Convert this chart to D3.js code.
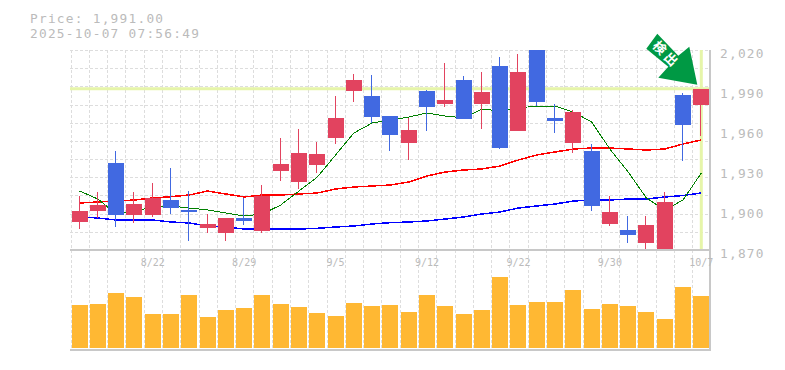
<!DOCTYPE html>
<html>

<head>
    <meta charset="utf-8">
    <script src="https://d3js.org/d3.v7.min.js"></script>

    <style type="text/css">
        html, body {
            margin: 0;
            padding: 0;
            background: white;
        }

        svg {
            display: block;
        }

        text {
            font-family: "DejaVu Sans Mono", monospace;
            fill: #bbbbbb;
        }

        .big {
            font-size: 12.8px;
            letter-spacing: 1.25px;
        }

        .grid line {
            stroke: #dddddd;
            stroke-width: 1px;
            stroke-dasharray: 3 2;
            shape-rendering: crispEdges;
        }

        .border {
            stroke: #c8c8c8;
            stroke-width: 2px;
            shape-rendering: crispEdges;
        }

        .axis path, .axis line {
            display: none;
        }

        .ma {
            fill: none;
            shape-rendering: crispEdges;
        }
    </style>
</head>

<body>
    <script>
        let dates = d3.range(35);
        let date_labels = { 4: "8/22", 9: "8/29", 14: "9/5", 19: "9/12", 24: "9/22", 29: "9/30", 34: "10/7" };
        let price_ticks = [2020, 1990, 1960, 1930, 1900, 1870];

        let open = [1891, 1899.25, 1935.25, 1896.25, 1896.25, 1907.5, 1900, 1886.5, 1882.75, 1894, 1884.25, 1929.25, 1921, 1933.75, 1954, 1989.25, 1985.5, 1970.5, 1950.25, 1989.25, 1979.5, 1997.5, 1979.5, 2008, 1959.25, 2020, 1969, 1950.25, 1944.25, 1889.5, 1885, 1875.25, 1870.75, 1986.25, 1978.75];
        let high = [1910.5, 1913.5, 1944.25, 1913.5, 1920.25, 1931.5, 1914.25, 1897, 1894, 1909, 1918.75, 1954, 1960.75, 1951, 1985.5, 2002, 2001.25, 1970.5, 1969, 1990, 2010.25, 2000.5, 2003.5, 2014.75, 2017, 2020, 1979.5, 1975, 1949.5, 1910.5, 1895.5, 1895.5, 1913.5, 1987.75, 1991];
        let low = [1885.75, 1894, 1887.25, 1890.25, 1894.75, 1897, 1876.75, 1882.75, 1876.75, 1888.75, 1882.75, 1921.75, 1915.75, 1927.75, 1949.5, 1981, 1965.25, 1944.25, 1937.5, 1959.25, 1977.25, 1968.25, 1960.75, 1945.75, 1959.25, 1978, 1957.75, 1942.75, 1899.25, 1888, 1875.25, 1870, 1870.75, 1936.75, 1955.5];
        let close = [1899.25, 1903.75, 1896.25, 1904.5, 1909, 1901.5, 1898.5, 1889.5, 1894, 1891.75, 1910.5, 1934.5, 1942.75, 1942, 1969, 1997.5, 1969.75, 1956.25, 1960, 1977.25, 1982.5, 1968.25, 1988.5, 1946.5, 2003.5, 1981, 1966.75, 1973.5, 1903, 1898.5, 1881.25, 1888.75, 1906, 1963.75, 1991];

        let ma_short = [1914.25, 1908.25, 1897, 1899.25, 1902, 1903, 1901.5, 1900, 1897.75, 1895.5, 1897, 1903.75, 1914.25, 1924.75, 1941.25, 1957.75, 1965.25, 1967.5, 1969.75, 1972.75, 1970.5, 1969, 1975.75, 1974.25, 1976.5, 1978, 1978, 1973.5, 1966, 1945.75, 1928.5, 1909, 1900, 1907.5, 1927.75];
        let ma_mid = [1905.25, 1906, 1906.75, 1907.5, 1909, 1910, 1911.25, 1914.25, 1912, 1909.75, 1911.25, 1911.25, 1912, 1912.75, 1915.75, 1917.25, 1918, 1918.75, 1921, 1925.5, 1928.5, 1930, 1930.75, 1933, 1937.5, 1941.25, 1943.5, 1945.75, 1946.5, 1946.5, 1945.75, 1945, 1945.75, 1949.5, 1952.5];
        let ma_long = [1894.75, 1894, 1892.5, 1892.5, 1892.5, 1891, 1890.25, 1888, 1887.25, 1885.75, 1885.75, 1885.75, 1885.75, 1886.25, 1887.25, 1888, 1889.5, 1890.5, 1891, 1891.75, 1893.25, 1894.75, 1897, 1898.5, 1901.5, 1903, 1904.5, 1906.75, 1907.5, 1907.5, 1908.25, 1908.25, 1909.75, 1910.88, 1912.75];

        let volume = [43, 44, 55, 51, 34, 34, 53, 31, 38, 40, 53, 44, 41, 35, 32, 45, 42, 43, 36, 53, 42, 34, 38, 71, 43, 46, 46, 58, 39, 44, 42, 36, 29, 61, 52];

        let price_now = 1991;

        let width = 785;
        let height = 370;
        let left = 70;
        let right = 710;
        let top_y = 50;
        let mid_y = 250;
        let bottom_y = 350;

        let svg = d3.select("body").append("svg")
            .attr("width", width)
            .attr("height", height);

        let x_scale = d3.scaleBand()
            .domain(dates)
            .range([71.6, 709.3])
            .paddingInner(0.125)
            .paddingOuter(0);

        let y_scale = d3.scaleLinear()
            .domain([1870, 2020])
            .range([mid_y, top_y]);

        let v_scale = d3.scaleLinear()
            .domain([0, 100])
            .range([348, 248]);

        let cx = function (i) { return x_scale(i) + x_scale.bandwidth() / 2; };

        // title
        svg.append("text").text("Price: 1,991.00").attr("class", "big")
            .attr("x", 30).attr("y", 23);
        svg.append("text").text("2025-10-07 07:56:49").attr("class", "big")
            .attr("x", 30).attr("y", 38);

        // grid
        let grid = svg.append("g").attr("class", "grid");
        grid.selectAll(".v").data(dates).enter().append("line")
            .attr("class", "v")
            .attr("x1", function (d) { return Math.round(x_scale(d) - 1) + 0.5; })
            .attr("x2", function (d) { return Math.round(x_scale(d) - 1) + 0.5; })
            .attr("y1", top_y).attr("y2", bottom_y);
        grid.selectAll(".h").data(d3.range(11)).enter().append("line")
            .attr("class", "h")
            .attr("x1", left).attr("x2", right)
            .attr("y1", function (d) { return Math.round(top_y + d * 200 / 11) + 0.5; })
            .attr("y2", function (d) { return Math.round(top_y + d * 200 / 11) + 0.5; });

        // current price markers
        svg.append("line")
            .attr("x1", left).attr("x2", right)
            .attr("y1", y_scale(price_now)).attr("y2", y_scale(price_now))
            .attr("stroke", "#e6f5a9").attr("stroke-width", 3);
        svg.append("line")
            .attr("x1", cx(34)).attr("x2", cx(34))
            .attr("y1", top_y).attr("y2", mid_y - 1)
            .attr("stroke", "#e6f5a9").attr("stroke-width", 3);

        // moving averages
        let ma_line = d3.line()
            .x(function (d, i) { return cx(i); })
            .y(function (d) { return y_scale(d); });

        svg.append("path").attr("class", "ma").attr("d", ma_line(ma_long))
            .attr("stroke", "#0000ff").attr("stroke-width", 1.5);
        svg.append("path").attr("class", "ma").attr("d", ma_line(ma_mid))
            .attr("stroke", "#ff0000").attr("stroke-width", 1.5);
        svg.append("path").attr("class", "ma").attr("d", ma_line(ma_short))
            .attr("stroke", "#008000").attr("stroke-width", 1);

        // candles
        let candle_color = function (i) { return close[i] >= open[i] ? "#e2435f" : "#4169e1"; };

        let candles = svg.append("g").selectAll("g").data(dates).enter().append("g");
        candles.append("line")
            .attr("x1", function (i) { return Math.round(cx(i)) - 0.5; })
            .attr("x2", function (i) { return Math.round(cx(i)) - 0.5; })
            .attr("y1", function (i) { return y_scale(high[i]); })
            .attr("y2", function (i) { return y_scale(low[i]); })
            .attr("stroke", candle_color)
            .attr("stroke-width", 1)
            .style("shape-rendering", "crispEdges");
        candles.append("rect")
            .attr("x", function (i) { return x_scale(i); })
            .attr("width", x_scale.bandwidth())
            .attr("y", function (i) { return y_scale(Math.max(open[i], close[i])); })
            .attr("height", function (i) { return Math.abs(y_scale(open[i]) - y_scale(close[i])); })
            .attr("fill", candle_color)
            .style("shape-rendering", "crispEdges");

        // volume
        svg.append("g").selectAll("rect").data(dates).enter().append("rect")
            .attr("x", function (i) { return x_scale(i); })
            .attr("width", x_scale.bandwidth())
            .attr("y", function (i) { return v_scale(volume[i]); })
            .attr("height", function (i) { return v_scale(0) - v_scale(volume[i]); })
            .attr("fill", "#ffb833")
            .style("shape-rendering", "crispEdges");

        // borders
        svg.append("line").attr("class", "border")
            .attr("x1", left).attr("x2", right + 1).attr("y1", mid_y).attr("y2", mid_y);
        svg.append("line").attr("class", "border")
            .attr("x1", left).attr("x2", right + 1).attr("y1", bottom_y).attr("y2", bottom_y);
        svg.append("line").attr("class", "border")
            .attr("x1", right).attr("x2", right).attr("y1", top_y).attr("y2", bottom_y + 1);

        // axes
        let y_axis = d3.axisRight(y_scale)
            .tickValues(price_ticks)
            .tickSize(0)
            .tickPadding(0)
            .tickFormat(d3.format(","));
        let y_g = svg.append("g").attr("class", "axis")
            .attr("transform", "translate(720,0)")
            .call(y_axis);
        y_g.selectAll("text").attr("class", "big").attr("dy", "0.6em");

        let x_axis = d3.axisBottom(x_scale)
            .tickValues(Object.keys(date_labels).map(Number))
            .tickSize(0)
            .tickPadding(0)
            .tickFormat(function (d) { return date_labels[d]; });
        let x_g = svg.append("g").attr("class", "axis")
            .attr("transform", "translate(0,259)")
            .call(x_axis);
        x_g.selectAll("text").style("font-size", "10px").attr("dy", "0.7em");

        // arrow on the last candle
        let tip_x = cx(34) - 4;
        let tip_y = y_scale(high[34]) - 4;
        let arrow = d3.line();
        let arrow_pts = [[-51, -36], [-40, -51], [-19, -29], [-8, -38], [0, 0], [-39, -7], [-29, -18]];
        svg.append("path")
            .attr("d", arrow(arrow_pts) + "Z")
            .attr("transform", "translate(" + tip_x + "," + tip_y + ")")
            .attr("fill", "#009944");
        svg.append("text").text("検出")
            .attr("transform", "translate(" + (tip_x - 31) + "," + (tip_y - 30) + ") rotate(45)")
            .attr("text-anchor", "middle")
            .attr("dy", "0.35em")
            .style("font-family", "'Noto Sans CJK JP'")
            .style("font-weight", "bold")
            .style("font-size", "13px")
            .style("letter-spacing", "3px")
            .style("fill", "white");
    </script>
</body>

</html>
